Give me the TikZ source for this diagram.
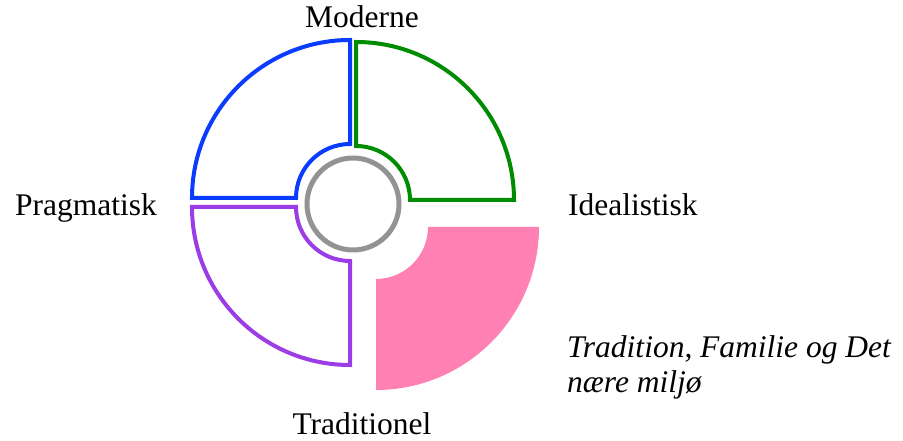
\documentclass[tikz,border=0pt]{standalone}
\usepackage{fontspec}
\setmainfont{Liberation Serif}
\usepackage{tikz}
\usetikzlibrary{positioning}
\definecolor{valueModern}{HTML}{0A3CFF}
\definecolor{valueIdeal}{HTML}{008C00}
\definecolor{valuePragmatic}{HTML}{9B3CE6}
\definecolor{valueTradition}{HTML}{FF80B2}
\definecolor{valueCore}{HTML}{939393}

\begin{document}
\begin{tikzpicture}[
  x=1pt, y=1pt,
  axis/.style={font=\fontsize{31.5}{35}\selectfont, inner sep=0pt},
  focus/.style={font=\fontsize{31.5}{35}\selectfont\itshape, inner sep=0pt, align=left},
  quarter/.style={line width=4pt, line join=miter, fill=white},
  core/.style={line width=5pt, draw=valueCore}
]
\useasboundingbox (0,0) rectangle (903,441);
% the four value quadrants
\draw[quarter, draw=valueModern] (350,297) -- (350,401) arc[start angle=90, end angle=180, radius=158]
  -- (296,243) arc[start angle=180, end angle=90, radius=54] -- cycle;
\draw[quarter, draw=valueIdeal] (356,295) -- (356,399) arc[start angle=90, end angle=0, radius=158]
  -- (410,241) arc[start angle=0, end angle=90, radius=54] -- cycle;
\draw[quarter, draw=valuePragmatic] (350,180) -- (350,76) arc[start angle=270, end angle=180, radius=158]
  -- (296,234) arc[start angle=180, end angle=270, radius=54] -- cycle;
\fill[valueTradition] (376,162) -- (376,51) arc[start angle=270, end angle=360, radius=163]
  -- (428,214) arc[start angle=0, end angle=-90, radius=52] -- cycle;
\draw[core] (353,237) circle[radius=46];
% labels
\node[axis, anchor=base] (modern) at (362,413) {Moderne};
\node[axis, anchor=base west] (pragmatic) at (15,225) {Pragmatisk};
\node[axis, anchor=base west] (ideal) at (568,225) {Idealistisk};
\node[axis, anchor=base] (traditional) at (362,6) {Traditionel};
\node[focus, anchor=base west] (tradition) at (567,48) {Tradition, Familie og Det\\nære miljø};
\end{tikzpicture}
\end{document}
